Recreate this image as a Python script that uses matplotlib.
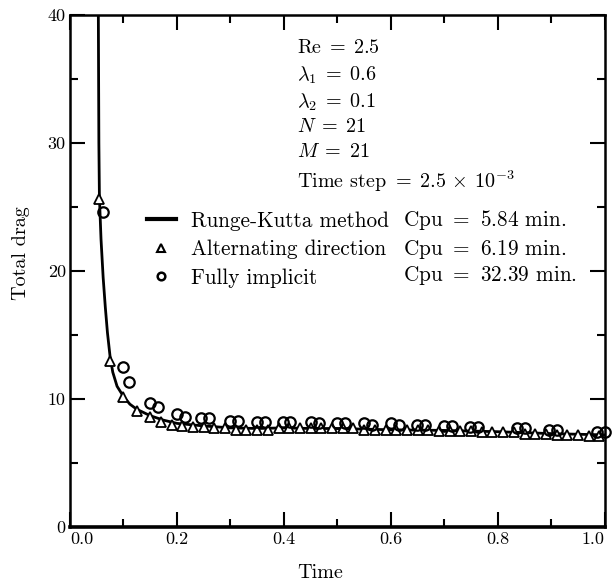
import matplotlib
matplotlib.use('Agg')
import matplotlib.pyplot as plt
from matplotlib.lines import Line2D

plt.rcParams['font.family'] = ['cmr10', 'DejaVu Serif']
plt.rcParams['mathtext.fontset'] = 'cm'
plt.rcParams['axes.unicode_minus'] = False
plt.rcParams['axes.formatter.use_mathtext'] = True

# Runge-Kutta solution (solid curve)
rk_time = [0.053, 0.054, 0.055, 0.058, 0.062, 0.066, 0.070, 0.075, 0.080, 0.088,
           0.100, 0.112, 0.125, 0.140, 0.150, 0.175, 0.200, 0.250, 0.300, 0.350,
           0.400, 0.450, 0.500, 0.600, 0.700, 0.800, 0.900, 1.000]
rk_drag = [40.0, 30.0, 25.8, 22.5, 19.5, 17.2, 15.2, 13.3, 12.1, 11.0,
           10.2, 9.6, 9.2, 8.9, 8.7, 8.35, 8.1, 7.9, 7.75, 7.7,
           7.75, 7.7, 7.7, 7.6, 7.55, 7.45, 7.3, 7.2]

# Alternating direction scheme (open triangles)
adi_time = [0.055, 0.075, 0.100, 0.125, 0.150, 0.170, 0.190, 0.210, 0.230, 0.250,
            0.270, 0.290, 0.310, 0.330, 0.350, 0.370, 0.390, 0.410, 0.430, 0.450,
            0.470, 0.490, 0.510, 0.530, 0.550, 0.570, 0.590, 0.610, 0.630, 0.650,
            0.670, 0.690, 0.710, 0.730, 0.750, 0.770, 0.790, 0.810, 0.830, 0.850,
            0.870, 0.890, 0.910, 0.930, 0.950, 0.970, 0.990]
adi_drag = [25.6, 13.0, 10.2, 9.1, 8.6, 8.2, 8.0, 7.9, 7.8, 7.8,
            7.7, 7.7, 7.6, 7.6, 7.6, 7.6, 7.7, 7.7, 7.7, 7.7,
            7.7, 7.7, 7.7, 7.7, 7.6, 7.6, 7.6, 7.6, 7.6, 7.6,
            7.6, 7.5, 7.5, 7.5, 7.5, 7.4, 7.4, 7.4, 7.4, 7.3,
            7.3, 7.3, 7.2, 7.2, 7.2, 7.1, 7.1]

# Fully implicit scheme (open circles)
imp_time = [0.061, 0.100, 0.110, 0.150, 0.165, 0.200, 0.215, 0.245, 0.260, 0.300,
            0.315, 0.350, 0.365, 0.398, 0.412, 0.450, 0.465, 0.500, 0.515, 0.550,
            0.565, 0.600, 0.615, 0.648, 0.663, 0.700, 0.715, 0.748, 0.763, 0.835,
            0.850, 0.895, 0.910, 0.985, 1.000]
imp_drag = [24.6, 12.5, 11.3, 9.7, 9.4, 8.8, 8.6, 8.5, 8.5, 8.3,
            8.3, 8.2, 8.2, 8.2, 8.2, 8.2, 8.1, 8.1, 8.1, 8.1,
            8.0, 8.1, 8.0, 8.0, 8.0, 7.9, 7.9, 7.8, 7.8, 7.7,
            7.7, 7.6, 7.6, 7.4, 7.4]

params = [r'$\mathrm{Re}\;=\;2.5$', r'$\lambda_1\;=\;0.6$', r'$\lambda_2\;=\;0.1$',
          r'$N\;=\;21$', r'$M\;=\;21$', r'Time step $=\;2.5\,\times\,10^{-3}$']
methods = ['Runge-Kutta method', 'Alternating direction', 'Fully implicit']
cpu = [r'Cpu $=$ 5.84 min.', r'Cpu $=$ 6.19 min.', r'Cpu $=$ 32.39 min.']

fig = plt.figure(figsize=(6.14, 5.83), dpi=100)
ax = fig.add_axes([0.114, 0.096, 0.871, 0.878])

ax.plot(rk_time, rk_drag, color='black', lw=2.0, zorder=3)
ax.plot(adi_time, adi_drag, ls='none', marker='^', ms=7.5, mfc='white', mec='black',
        mew=1.3, zorder=4)
ax.plot(imp_time, imp_drag, ls='none', marker='o', ms=7.5, mfc='none', mec='black',
        mew=1.6, zorder=5, clip_on=False)

ax.set_xlim(0, 1.0)
ax.set_ylim(0, 40)
ax.set_xticks([0.0, 0.2, 0.4, 0.6, 0.8, 1.0])
ax.set_xticklabels(['0.0', '0.2', '0.4', '0.6', '0.8', '1.0'])
ax.set_xticks([0.1, 0.3, 0.5, 0.7, 0.9], minor=True)
ax.set_yticks([0, 10, 20, 30, 40])
ax.set_yticklabels(['0', '10', '20', '30', '40'])
ax.set_yticks([5, 15, 25, 35], minor=True)
ax.tick_params(which='both', direction='in', top=True, right=True, width=1.5,
               labelsize=13, pad=3)
ax.tick_params(which='major', length=11)
ax.tick_params(which='minor', length=6)
ax.tick_params(axis='x', pad=3)
xl = ax.get_xticklabels()
xl[0].set_ha('left')
xl[-1].set_ha('right')
for s in ax.spines.values():
    s.set_linewidth(1.8)
ax.spines['bottom'].set_linewidth(2.6)

ax.set_xlabel('Time', fontsize=14.5)
ax.set_ylabel('Total drag', fontsize=14.5)
ax.xaxis.set_label_coords(0.467, -0.072)
ax.yaxis.set_label_coords(-0.075, 0.535)

rows = [0.936, 0.883, 0.830, 0.781, 0.732, 0.676]
for y, p in zip(rows, params):
    ax.text(0.424, y, p, transform=ax.transAxes, fontsize=14.5,
            va='center', ha='left')

handles = [Line2D([], [], color='black', lw=3),
           Line2D([], [], ls='none', marker='^', ms=6, mfc='white', mec='black', mew=1.5),
           Line2D([], [], ls='none', marker='o', ms=5.5, mfc='none', mec='black', mew=1.8)]
ax.legend(handles, methods, loc='upper left', bbox_to_anchor=(0.144, 0.617),
          frameon=False, fontsize=15.3, handlelength=1.35, handletextpad=0.7,
          labelspacing=0.42, borderpad=0, borderaxespad=0)
for i, c in enumerate(cpu):
    ax.text(0.622, [0.600, 0.543, 0.492][i], c, transform=ax.transAxes,
            fontsize=15.3, va='center', ha='left')

fig.savefig('out.png', dpi=100)
